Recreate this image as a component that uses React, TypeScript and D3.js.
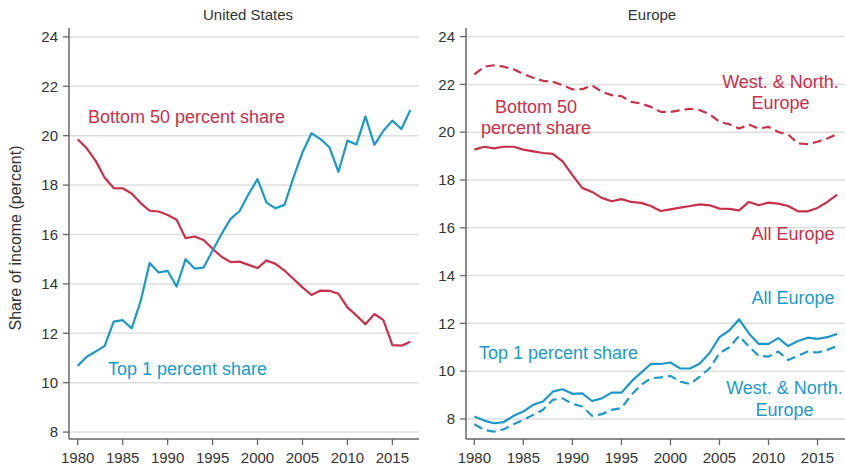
import React from "react";
import * as d3 from "d3";

const years = d3.range(1980, 2018);

const usBottom50 = [19.86, 19.49, 18.98, 18.3, 17.88, 17.87, 17.66, 17.27, 16.96, 16.93, 16.79, 16.6, 15.85, 15.92, 15.78, 15.42, 15.1, 14.88, 14.9, 14.77, 14.64, 14.95, 14.81, 14.54, 14.2, 13.86, 13.55, 13.73, 13.72, 13.6, 13.05, 12.72, 12.37, 12.78, 12.53, 11.52, 11.5, 11.66];
const usTop1 = [10.68, 11.05, 11.26, 11.49, 12.47, 12.53, 12.2, 13.3, 14.85, 14.46, 14.53, 13.89, 15.0, 14.62, 14.66, 15.35, 16.02, 16.63, 16.94, 17.63, 18.24, 17.29, 17.06, 17.2, 18.31, 19.32, 20.1, 19.86, 19.53, 18.54, 19.8, 19.64, 20.78, 19.63, 20.2, 20.61, 20.27, 21.04];

const euBottom50All = [19.27, 19.39, 19.32, 19.39, 19.39, 19.27, 19.2, 19.13, 19.09, 18.78, 18.2, 17.67, 17.5, 17.25, 17.11, 17.2, 17.08, 17.04, 16.91, 16.7, 16.77, 16.84, 16.91, 16.98, 16.94, 16.8, 16.79, 16.73, 17.08, 16.94, 17.05, 17.01, 16.91, 16.69, 16.69, 16.83, 17.08, 17.39];
const euBottom50WN = [22.42, 22.74, 22.8, 22.74, 22.63, 22.43, 22.28, 22.15, 22.11, 21.97, 21.79, 21.8, 21.96, 21.69, 21.55, 21.51, 21.27, 21.2, 21.06, 20.85, 20.85, 20.92, 20.98, 20.92, 20.75, 20.43, 20.33, 20.15, 20.32, 20.15, 20.22, 20.01, 19.9, 19.53, 19.5, 19.6, 19.74, 19.92];
const euTop1All = [8.1, 7.93, 7.82, 7.87, 8.13, 8.31, 8.59, 8.73, 9.14, 9.24, 9.05, 9.07, 8.75, 8.86, 9.1, 9.1, 9.56, 9.94, 10.3, 10.3, 10.36, 10.11, 10.11, 10.32, 10.77, 11.42, 11.7, 12.17, 11.58, 11.14, 11.14, 11.38, 11.05, 11.26, 11.4, 11.35, 11.42, 11.56];
const euTop1WN = [7.78, 7.54, 7.47, 7.57, 7.78, 7.96, 8.17, 8.38, 8.8, 8.86, 8.63, 8.52, 8.13, 8.2, 8.38, 8.45, 9.0, 9.42, 9.7, 9.74, 9.8, 9.56, 9.46, 9.77, 10.12, 10.75, 11.0, 11.47, 11.03, 10.64, 10.61, 10.82, 10.47, 10.64, 10.82, 10.78, 10.89, 11.05];

const yTicks = [8, 10, 12, 14, 16, 18, 20, 22, 24];
const xTicks = [1980, 1985, 1990, 1995, 2000, 2005, 2010, 2015];

const RED = "#c8304b";
const BLUE = "#1e98c8";
const FONT = "'Liberation Sans', Arial, Helvetica, sans-serif";

type Series = { values: number[]; color: string; dashed: boolean };
type Label = { lines: string[]; x: number; y: number; color: string; anchor: string };

function Panel(props: {
  title: string;
  titleX: number;
  x0: number; x1: number;
  xDomain: [number, number];
  yDomain: [number, number];
  series: Series[];
  labels: Label[];
}) {
  const top = 28, bottom = 439;
  const x = d3.scaleLinear().domain(props.xDomain).range([props.x0, props.x1]);
  const y = d3.scaleLinear().domain(props.yDomain).range([bottom, top]);
  const line = d3.line<number>().x((_, i) => x(years[i])).y((d) => y(d));
  return (
    <g>
      <text x={props.titleX} y={20} textAnchor="middle" fontSize={15} fill="#333" fontFamily={FONT}>{props.title}</text>
      {yTicks.map((t) => (
        <g key={t}>
          <line x1={props.x0} x2={props.x1} y1={y(t)} y2={y(t)} stroke="#dedede" strokeWidth={1.5} />
          <line x1={props.x0 - 6} x2={props.x0} y1={y(t)} y2={y(t)} stroke="#666" strokeWidth={1.3} />
          <text x={props.x0 - 11} y={y(t)} dy="0.35em" textAnchor="end" fontSize={15} fill="#333" fontFamily={FONT}>{t}</text>
        </g>
      ))}
      {xTicks.map((t) => (
        <g key={t}>
          <line x1={x(t)} x2={x(t)} y1={bottom} y2={bottom + 6} stroke="#666" strokeWidth={1.3} />
          <text x={x(t)} y={463} textAnchor="middle" fontSize={15} fill="#333" fontFamily={FONT}>{t}</text>
        </g>
      ))}
      <line x1={props.x0} x2={props.x0} y1={top} y2={bottom} stroke="#666" strokeWidth={1.5} />
      <line x1={props.x0} x2={props.x1} y1={bottom} y2={bottom} stroke="#666" strokeWidth={1.5} />
      {props.series.map((s, i) => (
        <path key={i} d={line(s.values) || ""} fill="none" stroke={s.color} strokeWidth={2.2}
          strokeDasharray={s.dashed ? "9,5" : undefined} strokeLinejoin="round" />
      ))}
      {props.labels.map((l, i) => (
        <text key={i} x={l.x} y={l.y} textAnchor={l.anchor as any} fontSize={18} fill={l.color} fontFamily={FONT}>
          {l.lines.map((ln, j) => (
            <tspan key={j} x={l.x} dy={j === 0 ? 0 : 21.5}>{ln}</tspan>
          ))}
        </text>
      ))}
    </g>
  );
}

export default function App() {
  return (
    <svg width={845} height={467} style={{ position: "absolute", left: 0, top: 0, background: "#fff" }}>
      <text transform="translate(21,238) rotate(-90)" textAnchor="middle" fontSize={16} fill="#333" fontFamily={FONT}>
        Share of income (percent)
      </text>
      <Panel
        title="United States"
        titleX={248}
        x0={69} x1={419}
        xDomain={[1979.03, 2017.96]}
        yDomain={[7.72, 24.36]}
        series={[
          { values: usBottom50, color: RED, dashed: false },
          { values: usTop1, color: BLUE, dashed: false },
        ]}
        labels={[
          { lines: ["Bottom 50 percent share"], x: 88, y: 123, color: RED, anchor: "start" },
          { lines: ["Top 1 percent share"], x: 108, y: 375, color: BLUE, anchor: "start" },
        ]}
      />
      <Panel
        title="Europe"
        titleX={652}
        x0={466} x1={845}
        xDomain={[1979.15, 2017.8]}
        yDomain={[7.16, 24.36]}
        series={[
          { values: euBottom50WN, color: RED, dashed: true },
          { values: euBottom50All, color: RED, dashed: false },
          { values: euTop1All, color: BLUE, dashed: false },
          { values: euTop1WN, color: BLUE, dashed: true },
        ]}
        labels={[
          { lines: ["Bottom 50", "percent share"], x: 536, y: 112.5, color: RED, anchor: "middle" },
          { lines: ["West. & North.", "Europe"], x: 780.5, y: 87.5, color: RED, anchor: "middle" },
          { lines: ["All Europe"], x: 793, y: 239.5, color: RED, anchor: "middle" },
          { lines: ["All Europe"], x: 793, y: 303.5, color: BLUE, anchor: "middle" },
          { lines: ["Top 1 percent share"], x: 479, y: 358.5, color: BLUE, anchor: "start" },
          { lines: ["West. & North.", "Europe"], x: 784.5, y: 394, color: BLUE, anchor: "middle" },
        ]}
      />
    </svg>
  );
}
